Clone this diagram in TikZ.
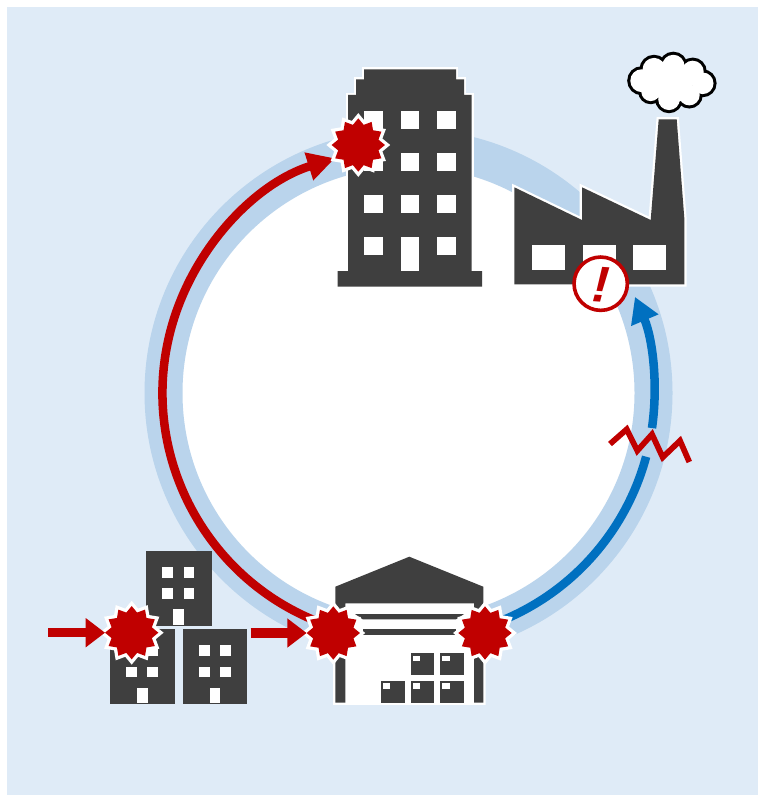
\documentclass[tikz,border=0pt]{standalone}
\usepackage{fontspec}
\setmainfont{Liberation Sans}
\usetikzlibrary{arrows.meta,shapes.geometric,calc}
\definecolor{panel}{HTML}{DFEBF7}
\definecolor{ringc}{HTML}{BAD4EC}
\definecolor{darkc}{HTML}{3F3F3F}
\definecolor{redc}{HTML}{C00000}
\definecolor{bluec}{HTML}{0070C0}
\tikzset{
  icon/.style={fill=darkc,preaction={draw=white,line width=3.4pt,line join=miter}},
  solid dark/.style={fill=darkc},
  hole/.style={fill=white},
  burst/.style={star,star points=12,star point ratio=1.28,minimum size=40pt,inner sep=0pt,outer sep=0pt,
    fill=redc,preaction={draw=white,line width=5pt}},
  flow/.style={line width=6.4pt},
  redflow/.style={flow,draw=redc,-{Triangle[length=20.5pt,width=20.5pt]}},
  blueflow/.style={flow,draw=bluec},
  feed/.style={draw=redc,line width=7pt,-{Triangle[length=14.5pt,width=21pt]}},
}
\begin{document}
\begin{tikzpicture}[x=.75pt,y=-.75pt]
\useasboundingbox (0,0) rectangle (758,795);
\fill[white] (0,0) rectangle (758,795);
\fill[panel] (7,7) rectangle (758,795);
\coordinate (c) at (408.5,393);
% ring
\node[circle,draw=ringc,fill=white,line width=28.5pt,minimum size=367.5pt,inner sep=0pt,outer sep=0pt] (ring) at (c) {};
% flows
\draw[redflow] ($(c)+(107:246)$) arc[start angle=107,end angle=252.6,radius=246];
\draw[blueflow] ($(c)+(72.5:246)$) arc[start angle=72.5,end angle=15,radius=246];
\draw[blueflow,-{Triangle[length=19pt,width=21pt]}] ($(c)+(8.2:246)$) arc[start angle=8.2,end angle=-23,radius=246];
% break mark
\draw[draw=redc,line width=4.3pt,miter limit=10] (610,444)--(626.7,429.3)--(637.3,450.7)--(652,434.3)--(662.7,457.3)--(680,440.7)--(689.3,462);
% office tower
\path[icon] (364,69.3)--(456,69.3)--(456,79.3)--(464,79.3)--(464,95)--(471.7,95)--(471.7,271)--(482,271)--(482,286.7)--(337.7,286.7)--(337.7,271)--(348,271)--(348,95)--(356,95)--(356,79.3)--(364,79.3)--cycle;
\foreach \wy in {111,153,195,237}{
  \fill[hole] (364,\wy) rectangle +(18.7,18.3);
  \fill[hole] (437.3,\wy) rectangle +(18.7,18.3);
}
\foreach \wy in {111,153,195}{\fill[hole] (400.7,\wy) rectangle +(18.6,18.3);}
\fill[hole] (400.7,237) rectangle (419.3,271);
% factory
\path[icon] (514.3,187.3)--(582,220)--(582,187.3)--(650.7,220)--(658.7,119.3)--(676.7,119.3)--(684.3,218.3)--(684.3,284.3)--(514.3,284.3)--cycle;
\foreach \wx in {532.3,583,633.3}{\fill[hole] (\wx,245.3) rectangle +(33,24.4);}
% cloud
\foreach \cx/\cy/\cr in {641.7/80.7/11.4,654/69.3/11.4,673.3/66/11.2,692.7/71.7/11,702.7/83.3/10.8,689.3/95/10.4,669/99.3/10.8,650.7/91.7/9.4}{
  \draw[black,line width=4.6pt] (\cx,\cy) circle[radius=\cr];
}
\foreach \cx/\cy/\cr in {641.7/80.7/11.4,654/69.3/11.4,673.3/66/11.2,692.7/71.7/11,702.7/83.3/10.8,689.3/95/10.4,669/99.3/10.8,650.7/91.7/9.4}{
  \fill[white] (\cx,\cy) circle[radius=\cr];
}
\fill[white] (672,83) circle[radius=20];
% warning sign
\node[circle,draw=redc,fill=white,line width=2.7pt,minimum size=40pt,inner sep=0pt] (warn) at (600.7,283.7) {};
\node[text=redc,font=\fontsize{38pt}{38pt}\selectfont\bfseries\itshape,inner sep=0pt,rotate=-4] (warntext) at (600.9,285) {!};
% warehouse
\path[fill=white,draw=white,line width=3.4pt] (335.3,586.7)--(409.3,556.7)--(483.3,586.7)--(483.3,702.7)--(335.3,702.7)--cycle;
\fill[solid dark] (335.3,586.7)--(409.3,556.7)--(483.3,586.7)--(483.3,702.7)--(474,702.7)--(474,603.3)--(345.3,603.3)--(345.3,702.7)--(335.3,702.7)--cycle;
\fill[solid dark] (355,614)--(464,614)--(456,619.3)--(362.7,619.3)--cycle;
\fill[solid dark] (362.7,629.3) rectangle (456,635.3);
\foreach \bx/\by in {410.7/653.3,440.3/653.3,381/681,410.7/681,440.3/681}{
  \fill[solid dark] (\bx,\by) rectangle +(23.7,21.7);
  \fill[hole] (\bx+2,\by+2.3) rectangle +(7.3,5.4);
}
% small buildings
\fill[solid dark] (146.3,550.7) rectangle (211.7,626);
\foreach \wx in {162.3,183.7}{\foreach \wy in {567,588.3}{\fill[hole] (\wx,\wy) rectangle +(10.7,10.7);}}
\fill[hole] (173,609.3) rectangle (183.7,625);
\fill[solid dark] (110.3,629) rectangle (175.3,704.3);
\foreach \wx in {126.3,147.3}{\foreach \wy in {645.3,666.7}{\fill[hole] (\wx,\wy) rectangle +(10.7,10.7);}}
\fill[hole] (137,688) rectangle (147.7,703.3);
\fill[solid dark] (183,629) rectangle (247.3,704.3);
\foreach \wx in {199,220.3}{\foreach \wy in {645.3,666.7}{\fill[hole] (\wx,\wy) rectangle +(10.7,10.7);}}
\fill[hole] (209.7,688) rectangle (220.3,703.3);
% bursts
\node[burst] (burstA) at (358.3,145) {};
\node[burst] (burstB) at (333.3,633) {};
\node[burst] (burstC) at (485,633) {};
\node[burst] (burstD) at (131.7,632.7) {};
% feeds
\coordinate (feedD) at (48.3,632.7);
\coordinate (feedB) at (250.7,633);
\draw[feed] (feedD) -- (burstD.west);
\draw[feed] (feedB) -- (burstB.west);
\end{tikzpicture}
\end{document}
